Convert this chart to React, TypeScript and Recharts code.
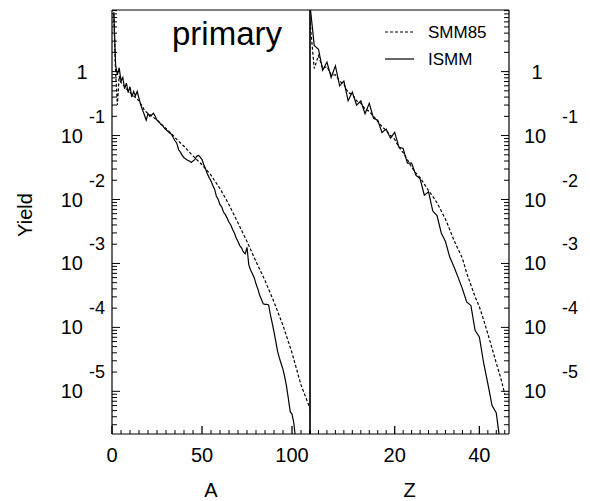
import React from 'react';
import { LineChart, Line, XAxis, YAxis, ReferenceLine, Legend, Customized } from 'recharts';

const FONT = '"Liberation Sans", Arial, Helvetica, sans-serif';

// ---------- Left panel: yield vs mass number A ----------
const ismmMassA = [
  1, 2, 3, 4, 5, 6, 7, 8, 9, 10, 11, 12, 13, 14, 15, 16, 17, 18, 19, 20,
  21, 22, 23, 24, 25, 26, 27, 28, 29, 30, 31, 32, 33, 34, 35, 36, 37, 38, 39, 40,
  41, 42, 43, 44, 45, 46, 47, 48, 49, 50, 51, 52, 53, 54, 55, 56, 57, 58, 59, 60,
  61, 62, 63, 64, 65, 66, 67, 68, 69, 70, 71, 72, 73, 74, 75, 76, 77, 78, 79, 80,
  81, 82, 83, 84, 85, 86, 87, 88, 89, 90, 91, 92, 93, 94, 95, 96, 97, 98, 99, 100,
  101, 102,
];
const ismmYieldA = [
  8.5, 1.26, 0.89, 1.15, 0.71, 0.81, 0.54, 0.66, 0.47, 0.58, 0.40, 0.49, 0.42, 0.49, 0.38, 0.30, 0.25, 0.21, 0.174, 0.22,
  0.20, 0.21, 0.224, 0.20, 0.174, 0.166, 0.151, 0.145, 0.132, 0.123, 0.117, 0.110, 0.105, 0.093, 0.083, 0.076, 0.060, 0.055, 0.049, 0.045,
  0.043, 0.041, 0.040, 0.038, 0.040, 0.042, 0.047, 0.049, 0.046, 0.042, 0.035, 0.030, 0.025, 0.022, 0.0195, 0.0166, 0.0145, 0.0112, 0.0100, 0.0083,
  0.0076, 0.0063, 0.0058, 0.0051, 0.0044, 0.0040, 0.0034, 0.0030, 0.0025, 0.0022, 0.0019, 0.00174, 0.00151, 0.00141, 0.00178, 0.00095, 0.00079, 0.00069, 0.00060, 0.00048,
  0.00040, 0.00032, 0.000275, 0.000234, 0.000229, 0.000229, 0.000224, 0.000158, 0.000117, 0.000085, 0.000060, 0.000042, 0.000033, 0.000027, 0.000022, 0.0000166, 0.0000117, 0.0000076, 0.0000048, 0.0000044,
  0.0000032, 0.0000018,
];
const smmMassA = [1, 2, 3, 4, 5, 6, 8, 10, 12, 15, 18, 20, 22, 25, 28, 30, 33, 36, 40, 45, 50, 55, 60, 63, 65, 70, 75, 80, 85, 90, 95, 100, 105, 110];
const smmYieldA = [
  8.0, 1.0, 0.3, 0.85, 0.68, 0.63, 0.54, 0.47, 0.42, 0.35, 0.25, 0.22, 0.204, 0.174, 0.145, 0.129, 0.107, 0.087, 0.068, 0.048,
  0.035, 0.024, 0.0148, 0.0105, 0.0083, 0.0043, 0.0022, 0.00107, 0.00054, 0.00025, 0.000107, 0.00004, 0.0000126, 0.0000054,
];

// ---------- Right panel: yield vs charge Z ----------
const ismmChargeZ = [
  0, 1, 2, 3, 4, 5, 6, 7, 8, 9, 10, 11, 12, 13, 14, 15, 16, 17, 18, 19, 20, 21, 22,
  23, 24, 25, 26, 27, 28, 29, 30, 31, 32, 33, 34, 35, 36, 37, 38, 39, 40, 41, 42, 43, 44, 45,
];
const ismmYieldZ = [
  11, 2.57, 2.24, 1.05, 1.41, 0.81, 1.23, 0.60, 0.71, 0.35, 0.48, 0.30, 0.35, 0.22, 0.32, 0.186, 0.174, 0.112, 0.126, 0.091, 0.112, 0.066, 0.063,
  0.037, 0.037, 0.024, 0.021, 0.0117, 0.0132, 0.0066, 0.0056, 0.0030, 0.0022, 0.00126, 0.00089, 0.00060, 0.00040, 0.00025, 0.00022, 0.000089, 0.000071, 0.000028, 0.0000132, 0.0000060, 0.0000046, 0.0000014,
];
const smmChargeZ = [
  0, 1, 2, 3, 4, 5, 6, 7, 8, 9, 10, 11, 12, 13, 14, 15, 16, 17, 18, 19, 20, 21, 22, 23,
  24, 25, 26, 27, 28, 29, 30, 31, 32, 33, 34, 35, 36, 37, 38, 39, 40, 41, 42, 43, 44, 45, 46,
];
const smmYieldZ = [
  6.0, 1.12, 1.78, 1.12, 1.2, 0.89, 0.89, 0.71, 0.63, 0.47, 0.44, 0.35, 0.32, 0.26, 0.24, 0.20, 0.166, 0.138, 0.12, 0.10, 0.087, 0.066, 0.054, 0.042,
  0.032, 0.026, 0.022, 0.0174, 0.0138, 0.0112, 0.0089, 0.0066, 0.0049, 0.0034, 0.0023, 0.00166, 0.0012, 0.00071, 0.00046, 0.00030, 0.00021, 0.000132, 0.000079, 0.000047, 0.0000275, 0.0000166, 0.0000091,
];

// ---------- Axes ----------
const yDomain = [2.15e-6, 9.2];
const yDecades = [1, 0.1, 0.01, 0.001, 0.0001, 0.00001, 0.000001];
const yMultipliers = [1, 2, 3, 4, 5, 6, 7, 8, 9];
const yTicks: number[] = [];
yDecades.forEach((d) => yMultipliers.forEach((m) => {
  const v = d * m;
  if (v >= yDomain[0] && v <= yDomain[1]) yTicks.push(v);
}));

const aDomain = [0, 110];
const aTicks = [0, 5, 10, 15, 20, 25, 30, 35, 40, 45, 50, 55, 60, 65, 70, 75, 80, 85, 90, 95, 100, 105, 110];
const aTickLabels = [0, 50, 100];

const zDomain = [0, 47];
const zTicks = [0, 2, 4, 6, 8, 10, 12, 14, 16, 18, 20, 22, 24, 26, 28, 30, 32, 34, 36, 38, 40, 42, 44, 46];
const zTickLabels = [20, 40];

const seriesNames = ['SMM85', 'ISMM'];
const panelTitle = 'primary';

const toPoints = (xs: number[], ys: number[]) => xs.map((x, i) => ({ x, y: ys[i] }));
const ismmA = toPoints(ismmMassA, ismmYieldA);
const smmA = toPoints(smmMassA, smmYieldA);
const ismmZ = toPoints(ismmChargeZ, ismmYieldZ);
const smmZ = toPoints(smmChargeZ, smmYieldZ);

const W = 590;
const H = 501;
const LINE_W = 1.2;
const DASH = '3 2';

function YTick(props: any) {
  const { x, y, payload, side } = props;
  const v = payload.value;
  const lg = Math.log10(v);
  const exp = Math.round(lg);
  const isMajor = Math.abs(lg - exp) < 1e-6;
  const dir = side === 'left' ? 1 : -1;
  const len = isMajor ? 8 : 5;
  let label: React.ReactNode = null;
  if (isMajor) {
    if (exp === 0) {
      label = (
        <text x={side === 'left' ? x - 30 : x + 28} y={y + 7.5} textAnchor="middle" fontSize={20} fontFamily={FONT} fill="#000">1</text>
      );
    } else {
      const baseX = side === 'left' ? x - 29 : x + 15;
      const expX = side === 'left' ? x - 23 : x + 53;
      label = (
        <g>
          <text x={baseX} y={y + 7} textAnchor={side === 'left' ? 'end' : 'start'} fontSize={20} fontFamily={FONT} fill="#000">10</text>
          <text x={expX} y={y - 13} textAnchor="start" fontSize={18} fontFamily={FONT} fill="#000">{String(exp)}</text>
        </g>
      );
    }
  }
  return (
    <g>
      <line x1={x} x2={x + dir * len} y1={y} y2={y} stroke="#000" strokeWidth={1} />
      {label}
    </g>
  );
}

function XTick(props: any) {
  const { x, y, payload, labels, major } = props;
  const v = payload.value;
  const isMajor = major.includes(v);
  const len = isMajor ? 8 : 4;
  return (
    <g>
      <line x1={x} x2={x} y1={y} y2={y - len} stroke="#000" strokeWidth={isMajor ? 1.3 : 1} />
      {labels.includes(v) ? (
        <text x={x} y={y + 28} textAnchor="middle" fontSize={20} fontFamily={FONT} fill="#000">{String(v)}</text>
      ) : null}
    </g>
  );
}

function LegendContent(props: any) {
  const payload = [...(props.payload || [])].sort(
    (a: any, b: any) => seriesNames.indexOf(a.value) - seriesNames.indexOf(b.value)
  );
  return (
    <svg width={130} height={55} style={{ overflow: 'visible' }}>
      {payload.map((entry: any, i: number) => {
        const cy = 12 + i * 27;
        return (
          <g key={entry.value}>
            <line x1={5} x2={34} y1={cy} y2={cy} stroke="#000" strokeWidth={LINE_W} strokeDasharray={entry.value === seriesNames[0] ? DASH : undefined} />
            <text x={48} y={cy + 6} fontSize={17} fontFamily={FONT} fill="#000">{entry.value}</text>
          </g>
        );
      })}
    </svg>
  );
}

function Title() {
  return (
    <text x={172} y={45} fontSize={33} fontFamily={FONT} fill="#000">{panelTitle}</text>
  );
}

function YieldLabel() {
  return (
    <text x={32} y={215} transform="rotate(-90 32 215)" textAnchor="middle" fontSize={20} fontFamily={FONT} fill="#000">Yield</text>
  );
}

export default function App() {
  const axisLine = { stroke: '#000', strokeWidth: 1.2 };
  return (
    <div style={{ position: 'absolute', left: 0, top: 0, width: W, height: H, background: '#fff' }}>
      <div style={{ position: 'absolute', left: 0, top: 0 }}>
        <LineChart width={W} height={H} margin={{ top: 10, right: 280, left: 0, bottom: 0 }}>
          <XAxis
            type="number"
            dataKey="x"
            domain={aDomain}
            allowDataOverflow
            ticks={aTicks}
            interval={0}
            tickSize={0}
            tickMargin={0}
            height={67}
            axisLine={axisLine}
            tick={<XTick labels={aTickLabels} major={aTickLabels} />}
            label={{ value: 'A', position: 'insideBottom', offset: 4, fontSize: 20, fontFamily: FONT, fill: '#000' }}
          />
          <YAxis
            type="number"
            scale="log"
            domain={yDomain}
            allowDataOverflow
            ticks={yTicks}
            interval={0}
            tickSize={0}
            tickMargin={0}
            width={112}
            axisLine={axisLine}
            tick={<YTick side="left" />}
          />
          <ReferenceLine y={yDomain[1]} stroke="#000" strokeWidth={1.2} />
          <ReferenceLine x={aDomain[1]} stroke="#000" strokeWidth={1.2} />
          <Line data={smmA} dataKey="y" name={seriesNames[0]} type="linear" dot={false} stroke="#000" strokeWidth={LINE_W} strokeDasharray={DASH} isAnimationActive={false} />
          <Line data={ismmA} dataKey="y" name={seriesNames[1]} type="linear" dot={false} stroke="#000" strokeWidth={LINE_W} isAnimationActive={false} />
          <Customized component={Title} />
          <Customized component={YieldLabel} />
        </LineChart>
      </div>
      <div style={{ position: 'absolute', left: 0, top: 0 }}>
        <LineChart width={W} height={H} margin={{ top: 10, right: 0, left: 310, bottom: 0 }}>
          <XAxis
            type="number"
            dataKey="x"
            domain={zDomain}
            allowDataOverflow
            ticks={zTicks}
            interval={0}
            tickSize={0}
            tickMargin={0}
            height={67}
            axisLine={axisLine}
            tick={<XTick labels={zTickLabels} major={zTickLabels} />}
            label={{ value: 'Z', position: 'insideBottom', offset: 4, fontSize: 20, fontFamily: FONT, fill: '#000' }}
          />
          <YAxis
            type="number"
            scale="log"
            orientation="right"
            domain={yDomain}
            allowDataOverflow
            ticks={yTicks}
            interval={0}
            tickSize={0}
            tickMargin={0}
            width={81}
            axisLine={axisLine}
            tick={<YTick side="right" />}
          />
          <ReferenceLine y={yDomain[1]} stroke="#000" strokeWidth={1.2} />
          <ReferenceLine x={zDomain[0]} stroke="#000" strokeWidth={1.2} />
          <Line data={smmZ} dataKey="y" name={seriesNames[0]} type="linear" dot={false} stroke="#000" strokeWidth={LINE_W} strokeDasharray={DASH} isAnimationActive={false} />
          <Line data={ismmZ} dataKey="y" name={seriesNames[1]} type="linear" dot={false} stroke="#000" strokeWidth={LINE_W} isAnimationActive={false} />
          <Legend
            layout="horizontal"
            verticalAlign="middle"
            align="center"
            wrapperStyle={{ left: 380, top: 20, width: 130, height: 55 }}
            content={<LegendContent />}
          />
        </LineChart>
      </div>
    </div>
  );
}
